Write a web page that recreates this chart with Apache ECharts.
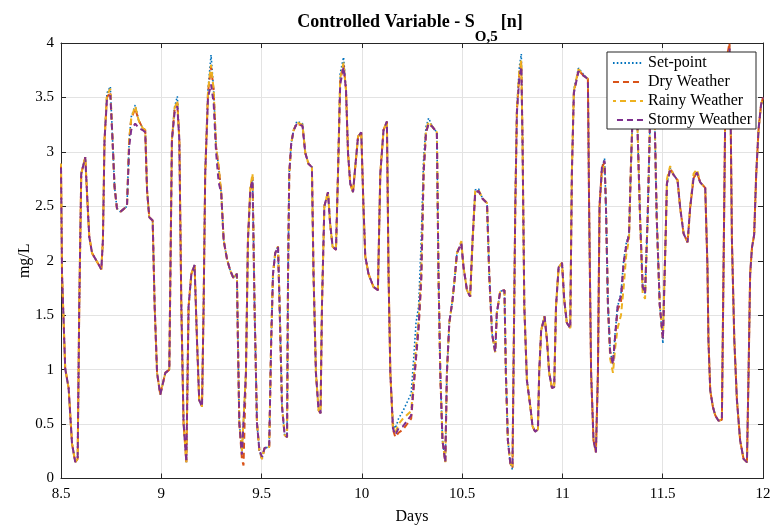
<!DOCTYPE html>
<html>
<head>
<meta charset="utf-8">
<script src="https://cdn.jsdelivr.net/npm/echarts@6/dist/echarts.min.js"></script>
<style>html,body{margin:0;padding:0;background:#fff;overflow:hidden;}#chart{width:772px;height:527px;}</style>
</head>
<body>
<div id="chart"></div>
<script>
var days = [
  8.500, 8.505, 8.521, 8.538, 8.555, 8.571, 8.583, 8.591, 8.601, 8.621,
  8.633, 8.641, 8.655, 8.674, 8.701, 8.709, 8.717, 8.729, 8.746, 8.757,
  8.767, 8.779, 8.796, 8.829, 8.840, 8.850, 8.870, 8.887, 8.907, 8.920,
  8.929, 8.940, 8.957, 8.967, 8.979, 8.995, 9.020, 9.040, 9.053, 9.066,
  9.080, 9.090, 9.100, 9.111, 9.125, 9.136, 9.150, 9.166, 9.178, 9.189,
  9.203, 9.211, 9.219, 9.233, 9.248, 9.261, 9.273, 9.286, 9.299, 9.311,
  9.328, 9.344, 9.360, 9.377, 9.382, 9.389, 9.402, 9.410, 9.422, 9.432,
  9.444, 9.455, 9.465, 9.477, 9.489, 9.502, 9.515, 9.538, 9.548, 9.557,
  9.568, 9.582, 9.590, 9.602, 9.615, 9.627, 9.632, 9.638, 9.648, 9.660,
  9.676, 9.704, 9.718, 9.734, 9.751, 9.759, 9.771, 9.784, 9.794, 9.801,
  9.813, 9.831, 9.842, 9.854, 9.871, 9.881, 9.892, 9.909, 9.921, 9.931,
  9.942, 9.956, 9.967, 9.981, 9.997, 10.008, 10.017, 10.033, 10.058, 10.080,
  10.092, 10.108, 10.125, 10.133, 10.142, 10.155, 10.167, 10.183, 10.205, 10.246,
  10.258, 10.270, 10.283, 10.296, 10.308, 10.320, 10.333, 10.352, 10.374, 10.382,
  10.391, 10.402, 10.416, 10.424, 10.436, 10.452, 10.462, 10.474, 10.496, 10.507,
  10.524, 10.540, 10.552, 10.565, 10.582, 10.602, 10.624, 10.635, 10.649, 10.665,
  10.673, 10.690, 10.711, 10.718, 10.728, 10.740, 10.751, 10.756, 10.765, 10.773,
  10.785, 10.795, 10.801, 10.810, 10.823, 10.840, 10.851, 10.864, 10.878, 10.884,
  10.894, 10.911, 10.923, 10.934, 10.948, 10.959, 10.968, 10.981, 10.998, 11.009,
  11.022, 11.039, 11.047, 11.057, 11.080, 11.105, 11.127, 11.133, 11.143, 11.155,
  11.167, 11.177, 11.185, 11.197, 11.210, 11.217, 11.227, 11.238, 11.252, 11.263,
  11.275, 11.292, 11.305, 11.318, 11.332, 11.342, 11.352, 11.363, 11.373, 11.387,
  11.400, 11.412, 11.425, 11.437, 11.450, 11.460, 11.470, 11.485, 11.501, 11.515,
  11.521, 11.537, 11.554, 11.574, 11.587, 11.604, 11.624, 11.637, 11.654, 11.671,
  11.687, 11.712, 11.723, 11.728, 11.737, 11.750, 11.762, 11.778, 11.795, 11.803,
  11.812, 11.823, 11.833, 11.840, 11.845, 11.857, 11.870, 11.886, 11.903, 11.920,
  11.928, 11.936, 11.945, 11.956, 11.966, 11.978, 11.990, 12.000
];

var setPoint = [
  2.89, 1.88, 1.01, 0.83, 0.32, 0.15, 0.18, 1.58, 2.80, 2.95,
  2.50, 2.22, 2.07, 2.01, 1.92, 2.19, 3.11, 3.54, 3.60, 3.11,
  2.68, 2.48, 2.45, 2.50, 3.11, 3.32, 3.43, 3.29, 3.22, 3.20,
  2.65, 2.40, 2.37, 1.58, 0.97, 0.77, 0.97, 1.00, 3.11, 3.41,
  3.51, 3.11, 1.58, 0.51, 0.15, 1.58, 1.88, 1.96, 1.27, 0.72,
  0.66, 1.58, 2.80, 3.57, 3.89, 3.57, 3.05, 2.86, 2.62, 2.19,
  2.01, 1.91, 1.84, 1.88, 1.27, 0.51, 0.23, 0.22, 0.97, 2.19,
  2.65, 2.77, 1.58, 0.51, 0.26, 0.18, 0.28, 0.29, 1.27, 1.88,
  2.07, 2.13, 1.58, 0.66, 0.40, 0.38, 1.88, 2.80, 3.08, 3.20,
  3.28, 3.26, 2.99, 2.89, 2.86, 1.88, 0.97, 0.63, 0.60, 1.58,
  2.50, 2.63, 2.34, 2.13, 2.10, 2.80, 3.72, 3.87, 3.57, 2.99,
  2.71, 2.63, 2.86, 3.14, 3.18, 2.50, 2.04, 1.88, 1.76, 1.73,
  2.80, 3.20, 3.28, 1.88, 0.97, 0.51, 0.46, 0.55, 0.62, 0.78,
  1.09, 1.43, 1.58, 2.19, 2.95, 3.23, 3.31, 3.23, 3.18, 1.88,
  0.97, 0.35, 0.15, 0.97, 1.43, 1.64, 1.82, 2.07, 2.16, 1.94,
  1.73, 1.67, 2.19, 2.65, 2.66, 2.57, 2.53, 1.88, 1.33, 1.16,
  1.52, 1.72, 1.73, 0.97, 0.35, 0.14, 0.08, 0.97, 2.50, 3.41,
  3.78, 3.90, 3.11, 1.58, 0.90, 0.66, 0.48, 0.43, 0.45, 0.97,
  1.36, 1.49, 1.27, 0.97, 0.83, 0.84, 1.58, 1.94, 1.98, 1.64,
  1.43, 1.38, 2.80, 3.57, 3.77, 3.71, 3.67, 2.50, 0.97, 0.35,
  0.24, 0.97, 2.50, 2.86, 2.94, 2.50, 1.59, 1.17, 1.05, 1.34,
  1.58, 1.70, 2.00, 2.16, 2.24, 2.90, 3.45, 3.72, 3.30, 2.40,
  1.76, 1.70, 2.40, 3.30, 3.68, 3.30, 2.40, 1.60, 1.24, 2.25,
  2.71, 2.85, 2.79, 2.74, 2.49, 2.25, 2.17, 2.49, 2.76, 2.81,
  2.72, 2.67, 1.95, 1.27, 0.81, 0.66, 0.58, 0.53, 0.54, 1.88,
  3.41, 3.87, 3.98, 3.11, 2.19, 1.27, 0.72, 0.35, 0.18, 0.15,
  0.97, 1.88, 2.12, 2.24, 2.79, 3.21, 3.43, 3.50
];

var dryWeather = [
  2.89, 1.88, 1.01, 0.83, 0.32, 0.15, 0.18, 1.58, 2.80, 2.95,
  2.50, 2.22, 2.07, 2.01, 1.92, 2.19, 3.11, 3.50, 3.55, 3.11,
  2.68, 2.48, 2.45, 2.50, 3.11, 3.30, 3.40, 3.29, 3.22, 3.20,
  2.65, 2.40, 2.37, 1.58, 0.97, 0.77, 0.97, 1.00, 3.11, 3.38,
  3.45, 3.11, 1.58, 0.51, 0.15, 1.58, 1.88, 1.96, 1.27, 0.72,
  0.66, 1.58, 2.80, 3.55, 3.78, 3.57, 3.05, 2.86, 2.62, 2.19,
  2.01, 1.91, 1.84, 1.88, 1.27, 0.51, 0.18, 0.12, 0.97, 2.19,
  2.65, 2.77, 1.58, 0.51, 0.26, 0.18, 0.28, 0.29, 1.27, 1.88,
  2.07, 2.13, 1.58, 0.66, 0.40, 0.38, 1.88, 2.80, 3.08, 3.20,
  3.26, 3.24, 2.99, 2.89, 2.86, 1.88, 0.97, 0.63, 0.60, 1.58,
  2.50, 2.63, 2.34, 2.13, 2.10, 2.80, 3.65, 3.80, 3.57, 2.99,
  2.71, 2.63, 2.86, 3.14, 3.18, 2.50, 2.04, 1.88, 1.76, 1.73,
  2.80, 3.20, 3.28, 1.88, 0.97, 0.45, 0.38, 0.42, 0.45, 0.55,
  0.82, 1.10, 1.38, 1.80, 2.80, 3.18, 3.26, 3.23, 3.18, 1.88,
  0.97, 0.35, 0.15, 0.97, 1.43, 1.64, 1.82, 2.07, 2.16, 1.94,
  1.73, 1.67, 2.19, 2.62, 2.64, 2.57, 2.53, 1.88, 1.33, 1.16,
  1.52, 1.72, 1.73, 0.97, 0.35, 0.14, 0.10, 0.97, 2.50, 3.38,
  3.70, 3.82, 3.11, 1.58, 0.90, 0.66, 0.48, 0.43, 0.45, 0.97,
  1.36, 1.49, 1.27, 0.97, 0.83, 0.84, 1.58, 1.94, 1.98, 1.64,
  1.43, 1.38, 2.80, 3.55, 3.75, 3.70, 3.67, 2.50, 0.97, 0.35,
  0.24, 0.97, 2.50, 2.86, 2.90, 2.50, 1.59, 1.17, 1.05, 1.30,
  1.55, 1.62, 1.95, 2.12, 2.24, 2.90, 3.45, 3.72, 3.30, 2.40,
  1.76, 1.70, 2.40, 3.30, 3.68, 3.30, 2.40, 1.60, 1.28, 2.25,
  2.71, 2.85, 2.79, 2.74, 2.49, 2.25, 2.17, 2.49, 2.76, 2.81,
  2.72, 2.67, 1.95, 1.27, 0.81, 0.66, 0.58, 0.53, 0.54, 1.88,
  3.41, 3.90, 4.00, 3.11, 2.19, 1.27, 0.72, 0.35, 0.18, 0.15,
  0.97, 1.88, 2.12, 2.24, 2.79, 3.21, 3.43, 3.50
];

var rainyWeather = [
  2.89, 1.88, 1.01, 0.83, 0.32, 0.15, 0.18, 1.58, 2.80, 2.95,
  2.50, 2.22, 2.07, 2.01, 1.92, 2.19, 3.11, 3.52, 3.58, 3.11,
  2.68, 2.48, 2.45, 2.50, 3.11, 3.31, 3.42, 3.29, 3.22, 3.20,
  2.65, 2.40, 2.37, 1.58, 0.97, 0.77, 0.97, 1.00, 3.11, 3.40,
  3.47, 3.11, 1.58, 0.51, 0.15, 1.58, 1.88, 1.96, 1.27, 0.72,
  0.66, 1.58, 2.80, 3.56, 3.80, 3.57, 3.05, 2.86, 2.62, 2.19,
  2.01, 1.91, 1.84, 1.88, 1.27, 0.51, 0.25, 0.25, 0.97, 2.19,
  2.68, 2.80, 1.58, 0.51, 0.26, 0.18, 0.28, 0.29, 1.27, 1.88,
  2.07, 2.13, 1.58, 0.66, 0.40, 0.38, 1.88, 2.80, 3.08, 3.20,
  3.27, 3.25, 2.99, 2.89, 2.86, 1.88, 0.97, 0.63, 0.60, 1.58,
  2.50, 2.63, 2.34, 2.13, 2.10, 2.80, 3.68, 3.82, 3.57, 2.99,
  2.71, 2.63, 2.86, 3.14, 3.18, 2.50, 2.04, 1.88, 1.76, 1.73,
  2.80, 3.20, 3.28, 1.88, 0.97, 0.48, 0.42, 0.50, 0.55, 0.62,
  0.90, 1.20, 1.45, 1.90, 2.85, 3.20, 3.28, 3.23, 3.18, 1.88,
  0.97, 0.35, 0.15, 0.97, 1.43, 1.64, 1.82, 2.07, 2.18, 1.94,
  1.73, 1.67, 2.19, 2.64, 2.65, 2.57, 2.53, 1.88, 1.33, 1.16,
  1.52, 1.72, 1.73, 0.97, 0.35, 0.14, 0.10, 0.97, 2.50, 3.40,
  3.74, 3.84, 3.11, 1.58, 0.90, 0.66, 0.48, 0.43, 0.45, 0.97,
  1.36, 1.49, 1.27, 0.97, 0.83, 0.84, 1.58, 1.94, 1.98, 1.64,
  1.43, 1.38, 2.80, 3.56, 3.76, 3.70, 3.67, 2.50, 0.97, 0.35,
  0.24, 0.97, 2.50, 2.80, 2.88, 2.50, 1.59, 1.10, 0.97, 1.20,
  1.38, 1.50, 1.75, 2.05, 2.20, 2.90, 3.45, 3.72, 3.30, 2.40,
  1.70, 1.65, 2.40, 3.30, 3.68, 3.30, 2.40, 1.60, 1.30, 2.25,
  2.75, 2.87, 2.79, 2.74, 2.49, 2.25, 2.17, 2.49, 2.80, 2.84,
  2.72, 2.67, 1.95, 1.27, 0.81, 0.66, 0.58, 0.53, 0.54, 1.88,
  3.41, 3.85, 3.95, 3.11, 2.19, 1.27, 0.72, 0.35, 0.18, 0.15,
  0.97, 1.88, 2.12, 2.24, 2.79, 3.21, 3.43, 3.50
];

var stormyWeather = [
  2.89, 1.88, 1.01, 0.83, 0.32, 0.15, 0.18, 1.58, 2.80, 2.95,
  2.50, 2.22, 2.07, 2.01, 1.92, 2.19, 3.11, 3.48, 3.52, 3.11,
  2.68, 2.48, 2.45, 2.50, 3.05, 3.20, 3.26, 3.22, 3.20, 3.18,
  2.65, 2.40, 2.37, 1.58, 0.97, 0.77, 0.97, 1.00, 3.11, 3.36,
  3.42, 3.11, 1.58, 0.51, 0.15, 1.58, 1.88, 1.96, 1.27, 0.72,
  0.66, 1.58, 2.80, 3.50, 3.62, 3.45, 3.00, 2.72, 2.62, 2.19,
  2.01, 1.91, 1.84, 1.88, 1.27, 0.51, 0.22, 0.22, 0.97, 2.19,
  2.65, 2.74, 1.58, 0.51, 0.26, 0.20, 0.28, 0.29, 1.27, 1.88,
  2.07, 2.13, 1.58, 0.66, 0.40, 0.38, 1.88, 2.80, 3.08, 3.20,
  3.26, 3.24, 2.99, 2.89, 2.86, 1.88, 0.97, 0.63, 0.60, 1.58,
  2.50, 2.63, 2.34, 2.13, 2.10, 2.80, 3.62, 3.78, 3.57, 2.99,
  2.71, 2.63, 2.86, 3.14, 3.18, 2.50, 2.04, 1.88, 1.76, 1.73,
  2.80, 3.20, 3.28, 1.88, 0.97, 0.46, 0.40, 0.46, 0.48, 0.58,
  0.85, 1.12, 1.40, 1.85, 2.82, 3.18, 3.26, 3.23, 3.18, 1.88,
  0.97, 0.35, 0.15, 0.97, 1.43, 1.64, 1.82, 2.07, 2.16, 1.94,
  1.73, 1.67, 2.19, 2.63, 2.64, 2.57, 2.53, 1.88, 1.33, 1.16,
  1.52, 1.72, 1.73, 0.97, 0.35, 0.14, 0.12, 0.97, 2.50, 3.36,
  3.68, 3.78, 3.11, 1.58, 0.90, 0.66, 0.48, 0.43, 0.45, 0.97,
  1.36, 1.49, 1.27, 0.97, 0.83, 0.84, 1.58, 1.94, 1.98, 1.64,
  1.43, 1.38, 2.80, 3.54, 3.74, 3.70, 3.67, 2.50, 0.97, 0.35,
  0.24, 0.97, 2.50, 2.86, 2.92, 2.50, 1.59, 1.15, 1.05, 1.32,
  1.58, 1.68, 1.98, 2.14, 2.24, 2.90, 3.45, 3.72, 3.30, 2.40,
  1.76, 1.70, 2.40, 3.30, 3.68, 3.30, 2.40, 1.60, 1.28, 2.25,
  2.71, 2.83, 2.79, 2.74, 2.49, 2.25, 2.17, 2.49, 2.76, 2.81,
  2.72, 2.67, 1.95, 1.27, 0.81, 0.66, 0.58, 0.53, 0.54, 1.88,
  3.41, 3.85, 3.95, 3.11, 2.19, 1.27, 0.72, 0.35, 0.18, 0.15,
  0.97, 1.88, 2.12, 2.24, 2.79, 3.21, 3.43, 3.50
];

var seriesNames = ['Set-point', 'Dry Weather', 'Rainy Weather', 'Stormy Weather'];
var xTickLabels = ['8.5', '9', '9.5', '10', '10.5', '11', '11.5', '12'];
var yTickLabels = ['0', '0.5', '1', '1.5', '2', '2.5', '3', '3.5', '4'];
var titleMain = 'Controlled Variable - S';
var titleSub = 'O,5';
var titleEnd = '[n]';

function pairs(ys) {
  return days.map(function (d, i) { return [d, ys[i]]; });
}

var FONT = 'Liberation Serif';
var AX = '#262626';

var chart = echarts.init(document.getElementById('chart'), null, { renderer: 'canvas' });
var tickStyle = { show: true, inside: true, length: 5, lineStyle: { color: AX, width: 1 } };
chart.setOption({
  animation: false,
  backgroundColor: '#ffffff',
  title: {
    text: '{a|' + titleMain + '}{b|' + titleSub + '}{a|' + titleEnd + '}',
    left: 410,
    top: 13.5,
    padding: 0,
    textAlign: 'center',
    textStyle: {
      rich: {
        a: { fontFamily: FONT, fontSize: 18, fontWeight: 'bold', color: '#000', lineHeight: 20, verticalAlign: 'top' },
        b: { fontFamily: FONT, fontSize: 15, fontWeight: 'bold', color: '#000', lineHeight: 15, verticalAlign: 'top', padding: [16, 3, 0, 0] }
      }
    }
  },
  legend: {
    orient: 'vertical',
    right: 16,
    top: 52,
    data: seriesNames,
    itemWidth: 30,
    itemHeight: 10,
    itemGap: 3,
    padding: [3, 4, 1, 5],
    backgroundColor: '#ffffff',
    borderColor: AX,
    borderWidth: 1,
    borderRadius: 0,
    itemStyle: { opacity: 0 },
    textStyle: { fontFamily: FONT, fontSize: 16, lineHeight: 16, color: '#000' },
    z: 10
  },
  grid: { left: 61, right: 9, top: 43, bottom: 48.5, containLabel: false, outerBoundsMode: 'none' },
  xAxis: [{
    type: 'value', min: 8.5, max: 12, interval: 0.5,
    name: 'Days', nameLocation: 'middle', nameGap: 30, nameMoveOverlap: false,
    nameTextStyle: { fontFamily: FONT, fontSize: 16, color: '#000' },
    axisLine: { show: true, onZero: false, lineStyle: { color: AX, width: 1 } },
    axisTick: tickStyle,
    axisLabel: { fontFamily: FONT, fontSize: 15, color: '#000', margin: 8,
      formatter: function (v) { var i = Math.round((v - 8.5) / 0.5); return xTickLabels[i] !== undefined ? xTickLabels[i] : ''; } },
    splitLine: { show: true, lineStyle: { color: '#e3e3e3', width: 1 } }
  }, {
    type: 'value', min: 8.5, max: 12, interval: 0.5, position: 'top',
    axisLine: { show: true, onZero: false, lineStyle: { color: AX, width: 1 } },
    axisTick: tickStyle, axisLabel: { show: false }, splitLine: { show: false }
  }],
  yAxis: [{
    type: 'value', min: 0, max: 4, interval: 0.5,
    name: 'mg/L', nameLocation: 'middle', nameGap: 28, nameMoveOverlap: false,
    nameTextStyle: { fontFamily: FONT, fontSize: 16, color: '#000' },
    axisLine: { show: true, onZero: false, lineStyle: { color: AX, width: 1 } },
    axisTick: tickStyle,
    axisLabel: { fontFamily: FONT, fontSize: 15, color: '#000', margin: 7,
      formatter: function (v) { var i = Math.round(v / 0.5); return yTickLabels[i] !== undefined ? yTickLabels[i] : ''; } },
    splitLine: { show: true, lineStyle: { color: '#e3e3e3', width: 1 } }
  }, {
    type: 'value', min: 0, max: 4, interval: 0.5, position: 'right',
    axisLine: { show: true, onZero: false, lineStyle: { color: AX, width: 1 } },
    axisTick: tickStyle, axisLabel: { show: false }, splitLine: { show: false }
  }],
  series: [
    { name: seriesNames[0], type: 'line', data: pairs(setPoint), showSymbol: false, symbol: 'none',
      color: '#0072BD', lineStyle: { color: '#0072BD', width: 1.6, type: [1.6, 2.2] }, z: 2 },
    { name: seriesNames[1], type: 'line', data: pairs(dryWeather), showSymbol: false, symbol: 'none',
      color: '#D95319', lineStyle: { color: '#D95319', width: 2, type: [6, 4] }, z: 3 },
    { name: seriesNames[2], type: 'line', data: pairs(rainyWeather), showSymbol: false, symbol: 'none',
      color: '#EDB120', lineStyle: { color: '#EDB120', width: 2, type: [6, 4], dashOffset: 3 }, z: 4 },
    { name: seriesNames[3], type: 'line', data: pairs(stormyWeather), showSymbol: false, symbol: 'none',
      color: '#7E2F8E', lineStyle: { color: '#7E2F8E', width: 2, type: [6, 4], dashOffset: 6 }, z: 5 }
  ]
});
</script>
</body>
</html>
